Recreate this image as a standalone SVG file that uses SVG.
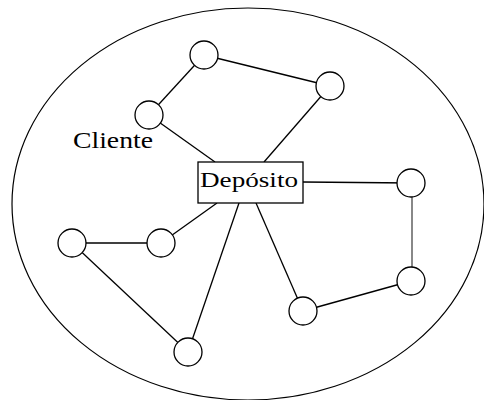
<svg xmlns="http://www.w3.org/2000/svg" width="484" height="400" viewBox="0 0 484 400">
<style>
.c{fill:#fff;stroke:#000;stroke-width:1.3}
.e{stroke:#000;stroke-width:1.3;fill:none}
.t{font-family:"Liberation Serif","Times New Roman",serif;fill:#000}
</style>
<rect width="484" height="400" fill="#fff"/>
<ellipse id="region" cx="248" cy="204" rx="236" ry="196" fill="none" stroke="#000" stroke-width="1.2"/>
<g id="connectors">
<line class="e" x1="149" y1="115" x2="215" y2="162"/>
<line class="e" x1="149" y1="115" x2="204" y2="55"/>
<line class="e" x1="204" y1="55" x2="330" y2="86"/>
<line class="e" x1="330" y1="86" x2="264" y2="162"/>
<line class="e" x1="303" y1="182" x2="411" y2="183"/>
<line x1="412" y1="183" x2="412" y2="281" stroke="#888" stroke-width="2"/>
<line class="e" x1="411" y1="281" x2="303" y2="311"/>
<line class="e" x1="303" y1="311" x2="256" y2="203"/>
<line class="e" x1="188" y1="352" x2="239" y2="203"/>
<line class="e" x1="72" y1="243" x2="188" y2="352"/>
<line class="e" x1="72" y1="243" x2="161" y2="243"/>
<line class="e" x1="161" y1="243" x2="217" y2="203"/>
</g>
<g id="deposito">
<rect x="198" y="162" width="105" height="41" fill="#fff" stroke="#000" stroke-width="1.3"/>
<text class="t" x="200" y="187" font-size="22" textLength="98" lengthAdjust="spacingAndGlyphs">Depósito</text>
</g>
<g id="label-cliente">
<text class="t" x="73" y="148" font-size="23" textLength="80" lengthAdjust="spacingAndGlyphs">Cliente</text>
</g>
<g id="n1"><circle class="c" cx="204" cy="55" r="14"/></g>
<g id="n2"><circle class="c" cx="330" cy="86" r="14"/></g>
<g id="n3"><circle class="c" cx="149" cy="115" r="14"/></g>
<g id="n4"><circle class="c" cx="411" cy="183" r="14"/></g>
<g id="n5"><circle class="c" cx="411" cy="281" r="14"/></g>
<g id="n6"><circle class="c" cx="303" cy="311" r="14"/></g>
<g id="n7"><circle class="c" cx="188" cy="352" r="14"/></g>
<g id="n8"><circle class="c" cx="72" cy="243" r="14"/></g>
<g id="n9"><circle class="c" cx="161" cy="243" r="14"/></g>
</svg>
